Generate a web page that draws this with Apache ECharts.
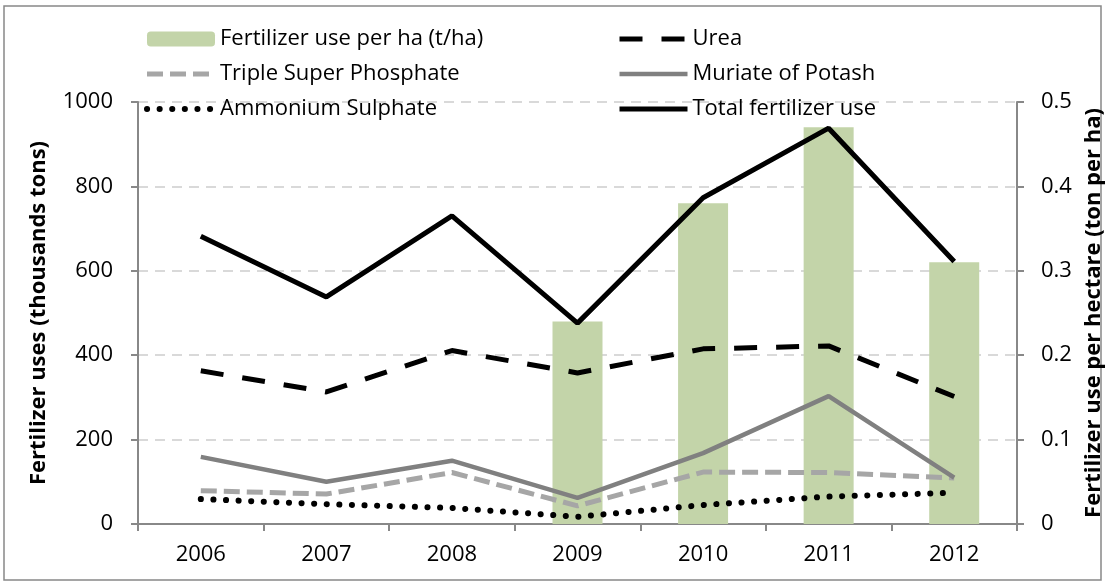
<!DOCTYPE html>
<html><head><meta charset="utf-8">
<script src="https://cdn.jsdelivr.net/npm/echarts@6/dist/echarts.min.js"></script>
<style>html,body{margin:0;padding:0;background:#fff}#c{width:1105px;height:583px}</style>
</head><body><div id="c"></div>
<script>
const years = ['2006','2007','2008','2009','2010','2011','2012'];
const perHa = ['-','-','-',0.24,0.38,0.47,0.31];
const urea = [363,313,411,358,415,422,302];
const tsp = [79,71,122,43,123,122,109];
const mop = [159,100,150,62,168,303,110];
const amSul = [59,47,38,17,45,65,74];
const total = [682,538,730,476,773,938,622];
const leftTicks = [0,200,400,600,800,1000];
const rightTicks = [0,0.1,0.2,0.3,0.4,0.5];

const chart = echarts.init(document.getElementById('c'));
const F = 'Open Sans';
const styles = {
  'Urea': {color: '#000', width: 5, type: [23, 19]},
  'Triple Super Phosphate': {color: '#a6a6a6', width: 5, type: [16, 7]},
  'Muriate of Potash': {color: '#808080', width: 4.5, type: 'solid'},
  'Ammonium Sulphate': {color: '#000', width: 6, type: [0.1, 12.5], cap: 'round'},
  'Total fertilizer use': {color: '#000', width: 5, type: 'solid'}
};
const lineSeries = (name, data, z) => ({
  name, type: 'line', data, yAxisIndex: 0, symbol: 'none', z,
  lineStyle: styles[name], itemStyle: {color: styles[name].color}
});
const legItem = (name) => styles[name]
  ? {name, itemStyle: {opacity: 0}, lineStyle: styles[name]}
  : {name};
const legendBase = {orient: 'vertical', top: 23, itemGap: 13, itemWidth: 68, itemHeight: 15,
  textStyle: {fontFamily: F, fontSize: 22, color: '#000'}};
chart.setOption({
  animation: false,
  graphic: [{type: 'rect', shape: {x: 4, y: 6, width: 1097, height: 574}, style: {fill: 'none', stroke: '#888', lineWidth: 1.5}, z: -10}],
  grid: {left: 138, right: 88, top: 102, bottom: 59, containLabel: false, outerBoundsMode: 'none'},
  legend: [
    Object.assign({left: 139, data: ['Fertilizer use per ha (t/ha)', 'Triple Super Phosphate', 'Ammonium Sulphate'].map(legItem)}, legendBase),
    Object.assign({left: 612, data: ['Urea', 'Muriate of Potash', 'Total fertilizer use'].map(legItem)}, legendBase)
  ],
  xAxis: {
    type: 'category', data: years,
    axisLine: {lineStyle: {color: '#888', width: 2}},
    axisTick: {show: true, length: 7, lineStyle: {color: '#888', width: 2}},
    axisLabel: {fontFamily: F, fontSize: 22, color: '#000', margin: 20}
  },
  yAxis: [
    {type: 'value', min: leftTicks[0], max: leftTicks[leftTicks.length-1], interval: 200,
     name: 'Fertilizer uses (thousands tons)', nameLocation: 'middle', nameGap: 88, nameRotate: 90,
     nameTextStyle: {fontFamily: F, fontSize: 22, fontWeight: 'bold', color: '#000'},
     axisLine: {show: true, lineStyle: {color: '#888', width: 2}},
     axisTick: {show: true, length: 7, lineStyle: {color: '#888', width: 2}},
     axisLabel: {fontFamily: F, fontSize: 22, color: '#000', margin: 25, formatter: v => String(v)},
     splitLine: {show: true, lineStyle: {color: '#d9d9d9', width: 2, type: [10, 7]}}},
    {type: 'value', min: rightTicks[0], max: rightTicks[rightTicks.length-1], interval: 0.1,
     name: 'Fertilizer use per hectare (ton per ha)', nameLocation: 'middle', nameGap: 59, nameRotate: 90,
     nameTextStyle: {fontFamily: F, fontSize: 22, fontWeight: 'bold', color: '#000'},
     axisLine: {show: true, lineStyle: {color: '#888', width: 2}},
     axisTick: {show: true, length: 7, lineStyle: {color: '#888', width: 2}},
     axisLabel: {fontFamily: F, fontSize: 22, color: '#000', margin: 24},
     splitLine: {show: false}}
  ],
  series: [
    {name: 'Fertilizer use per ha (t/ha)', type: 'bar', yAxisIndex: 1, data: perHa, barWidth: 50,
     itemStyle: {color: '#c3d4a9'}, z: 1},
    lineSeries('Urea', urea, 5),
    lineSeries('Triple Super Phosphate', tsp, 4),
    lineSeries('Muriate of Potash', mop, 4),
    lineSeries('Ammonium Sulphate', amSul, 5),
    lineSeries('Total fertilizer use', total, 6)
  ]
});
</script></body></html>
